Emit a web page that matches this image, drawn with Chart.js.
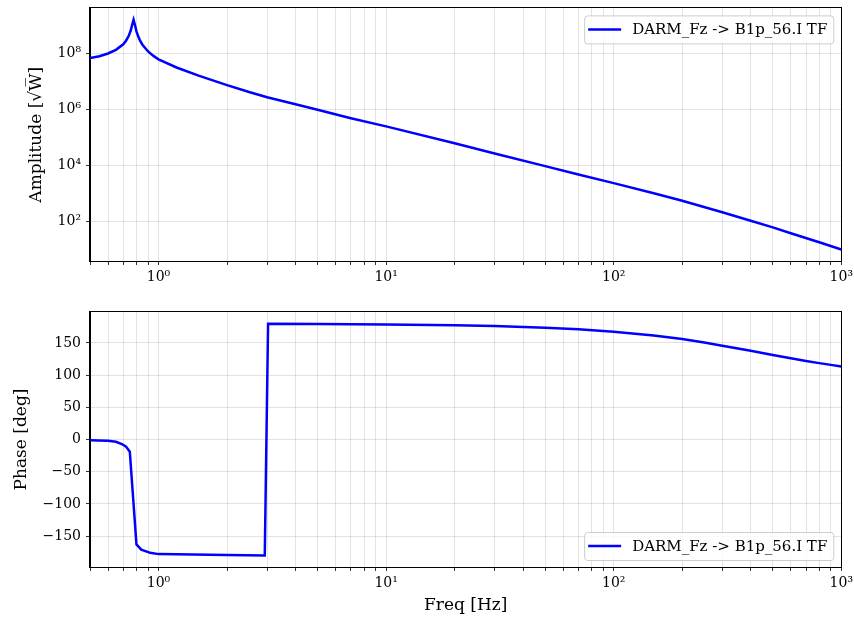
<!DOCTYPE html>
<html>
<head>
<meta charset="utf-8">
<script src="https://cdn.jsdelivr.net/npm/chart.js@4"></script>
<style>
  body { margin: 0; background: #fff; overflow: hidden; }
  canvas { position: absolute; left: 0; }
  #ampChart { top: -5px; }
  #phaseChart { top: 290px; }
</style>
</head>
<body>
<canvas id="ampChart" width="857" height="295"></canvas>
<canvas id="phaseChart" width="857" height="329"></canvas>
<script>
// Data
var seriesLabel = 'DARM_Fz -> B1p_56.I TF';

var ampFreq = [0.5, 0.55, 0.6, 0.65, 0.7, 0.72, 0.74, 0.755, 0.765, 0.777, 0.79, 0.80, 0.815, 0.83, 0.85,
               0.9, 0.95, 1.0, 1.2, 1.5, 2.0, 2.5, 3.0, 4, 5, 7, 10, 20, 30, 50, 70, 100,
               150, 200, 300, 400, 500, 600, 800, 1000];
var ampValues = [6.9e7, 8.0e7, 1.0e8, 1.35e8, 2.14e8, 2.86e8, 4.3e8, 6.6e8, 1.02e9, 1.6e9, 9.6e8, 6.2e8, 4.0e8, 2.87e8, 2.06e8,
                 1.18e8, 8.2e7, 6.2e7, 3.16e7, 1.62e7, 7.4e6, 4.2e6, 2.75e6, 1.55e6, 9.8e5, 4.9e5, 2.5e5, 6.2e4, 2.7e4, 9.5e3, 4.8e3, 2.35e3,
                 1.02e3, 550, 214, 107, 62, 38, 18.2, 10];

var phaseFreq = [0.5, 0.6, 0.65, 0.69, 0.72, 0.748, 0.80, 0.84, 0.92, 1.0, 2.0, 2.93,
                 3.03, 5, 10, 20, 30, 50, 70, 100, 150, 200, 250, 300, 400, 500, 600, 700, 800, 900, 1000];
var phaseValues = [-1, -2, -3.5, -7, -11, -19, -163, -171, -176, -178, -179.5, -180,
                   179.6, 179.4, 178.7, 177.5, 176.2, 173.7, 171.2, 167.5, 161.6, 156.0, 150.6, 145.5, 137.8, 131.2, 126.2, 121.9, 118.6, 115.9, 113.5];

var freqMajorTicks = [1, 10, 100, 1000];
var ampTicks = [1e2, 1e4, 1e6, 1e8];
var phaseTicks = [-150, -100, -50, 0, 50, 100, 150];

var lineColor = '#0000ff';
var gridColor = 'rgba(0,0,0,0.14)';
var serif = "'DejaVu Serif', serif";

var sup = {'0':'⁰','1':'¹','2':'²','3':'³','4':'⁴','5':'⁵','6':'⁶','7':'⁷','8':'⁸','9':'⁹','-':'⁻'};
function powLabel(v) {
  var e = Math.round(Math.log10(v));
  return '10' + String(e).split('').map(c => sup[c]).join('');
}

function freqTicks() {
  var t = [];
  for (var d = -1; d <= 2; d++) {
    for (var m = 1; m <= 9; m++) {
      var v = m * Math.pow(10, d);
      if (v >= 0.5 - 1e-9 && v <= 1000) t.push({value: v});
    }
  }
  t.push({value: 1000});
  return t;
}

function toPoints(xs, ys) {
  return xs.map((x, i) => ({x: x, y: ys[i]}));
}

// box round the plot area plus legend inside it
var frameLegend = {
  id: 'frameLegend',
  afterDraw(chart, args, opts) {
    var ctx = chart.ctx, a = chart.chartArea;
    ctx.save();
    ctx.strokeStyle = '#000';
    ctx.lineWidth = 1;
    ctx.strokeRect(Math.round(a.left) - 0.5, Math.round(a.top) - 0.5,
                   Math.round(a.right - a.left) + 1, Math.round(a.bottom - a.top) + 1);

    ctx.font = '15px ' + serif;
    var tw = ctx.measureText(seriesLabel).width;
    var w = 4 + 33 + 11 + tw + 6, h = 28;
    var x = a.right - 8 - w;
    var y = opts.where === 'top' ? a.top + 7 : a.bottom - 7 - h;
    ctx.fillStyle = 'rgba(255,255,255,0.8)';
    ctx.strokeStyle = '#cccccc';
    ctx.beginPath();
    ctx.roundRect(x + 0.5, y + 0.5, w, h, 3);
    ctx.fill();
    ctx.stroke();
    ctx.strokeStyle = lineColor;
    ctx.lineWidth = 2.5;
    ctx.beginPath();
    ctx.moveTo(x + 4, y + h / 2);
    ctx.lineTo(x + 37, y + h / 2);
    ctx.stroke();
    ctx.fillStyle = '#000';
    ctx.textBaseline = 'middle';
    ctx.fillText(seriesLabel, x + 48, y + h / 2 + 1);
    ctx.restore();
  }
};

function xAxis(height, showTitle) {
  return {
    type: 'logarithmic',
    min: 0.5,
    max: 1000,
    afterBuildTicks: s => { s.ticks = freqTicks(); },
    afterFit: s => { s.height = height; },
    ticks: {
      autoSkip: false,
      maxRotation: 0,
      color: '#000',
      padding: 4,
      font: {family: serif, size: 14},
      callback: v => freqMajorTicks.indexOf(v) >= 0 ? powLabel(v) : ''
    },
    grid: {color: gridColor, lineWidth: 0.8, tickColor: '#000', tickLength: 4},
    border: {color: '#000'},
    title: {
      display: showTitle,
      text: 'Freq [Hz]',
      color: '#000',
      font: {family: serif, size: 17},
      padding: {top: 0, bottom: 3}
    }
  };
}

var ampChart = new Chart(document.getElementById('ampChart'), {
  type: 'line',
  data: {
    datasets: [{
      label: seriesLabel,
      data: toPoints(ampFreq, ampValues),
      borderColor: lineColor,
      borderWidth: 2.5,
      pointRadius: 0,
      tension: 0
    }]
  },
  options: {
    responsive: false,
    animation: false,
    layout: {padding: {left: 0, right: 13, top: 12, bottom: 0}},
    scales: {
      x: xAxis(29, false),
      y: {
        type: 'logarithmic',
        min: Math.pow(10, 0.59),
        max: Math.pow(10, 9.61),
        afterBuildTicks: s => { s.ticks = ampTicks.map(v => ({value: v})); },
        afterFit: s => { s.width = 90; },
        ticks: {
          color: '#000',
          padding: 5,
          font: {family: serif, size: 14},
          callback: v => powLabel(v)
        },
        grid: {color: gridColor, lineWidth: 0.8, tickColor: '#000', tickLength: 4},
        border: {color: '#000'},
        title: {
          display: true,
          text: 'Amplitude [√W̅]',
          color: '#000',
          font: {family: serif, size: 17},
          padding: {top: 26, bottom: 0}
        }
      }
    },
    plugins: {
      legend: {display: false},
      tooltip: {enabled: false},
      frameLegend: {where: 'top'}
    }
  },
  plugins: [frameLegend]
});

var phaseChart = new Chart(document.getElementById('phaseChart'), {
  type: 'line',
  data: {
    datasets: [{
      label: seriesLabel,
      data: toPoints(phaseFreq, phaseValues),
      borderColor: lineColor,
      borderWidth: 2.5,
      pointRadius: 0,
      tension: 0
    }]
  },
  options: {
    responsive: false,
    animation: false,
    layout: {padding: {left: 0, right: 13, top: 22, bottom: 0}},
    scales: {
      x: xAxis(52, true),
      y: {
        type: 'linear',
        min: -198,
        max: 198,
        afterBuildTicks: s => { s.ticks = phaseTicks.map(v => ({value: v})); },
        afterFit: s => { s.width = 90; },
        ticks: {
          color: '#000',
          padding: 5,
          font: {family: serif, size: 14},
          callback: v => String(v).replace('-', '−')
        },
        grid: {color: gridColor, lineWidth: 0.8, tickColor: '#000', tickLength: 4},
        border: {color: '#000'},
        title: {
          display: true,
          text: 'Phase [deg]',
          color: '#000',
          font: {family: serif, size: 17},
          padding: {top: 11, bottom: 0}
        }
      }
    },
    plugins: {
      legend: {display: false},
      tooltip: {enabled: false},
      frameLegend: {where: 'bottom'}
    }
  },
  plugins: [frameLegend]
});
</script>
</body>
</html>
